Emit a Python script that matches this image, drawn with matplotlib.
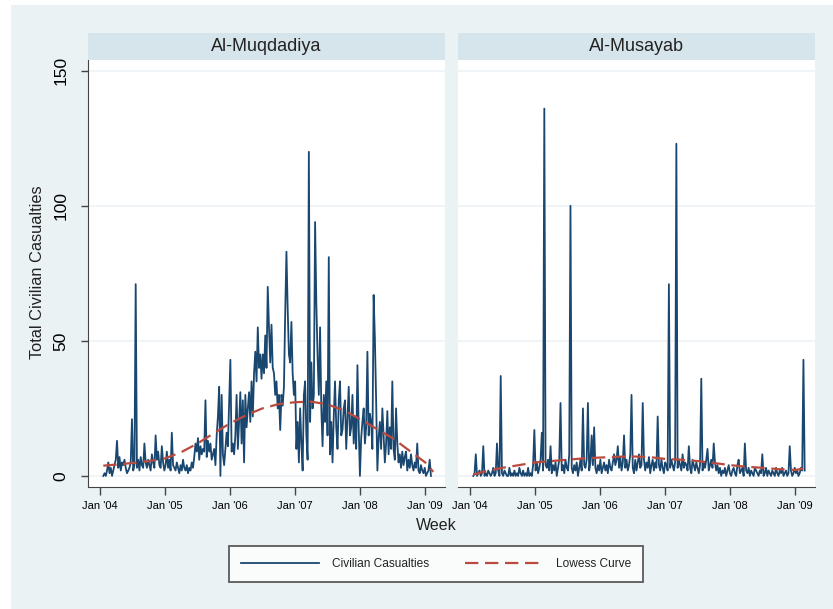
import numpy as np
import pandas as pd
import matplotlib
matplotlib.use('Agg')
import matplotlib.pyplot as plt
from matplotlib.patches import Rectangle

plt.rcParams['font.family'] = ['Liberation Sans', 'DejaVu Sans']

# weekly civilian casualties, starting week of 19 Jan 2004
muqdadiya = [
    0, 1, 0, 2, 5, 1, 3, 0, 2, 4,
    6, 13, 3, 7, 2, 5, 4, 6, 3, 1,
    2, 3, 5, 21, 2, 4, 71, 3, 6, 2,
    7, 4, 3, 12, 5, 3, 6, 4, 2, 8,
    5, 3, 15, 6, 9, 4, 3, 11, 5, 2,
    4, 9, 3, 6, 2, 16, 4, 3, 2, 5,
    3, 1, 4, 2, 6, 3, 2, 4, 1, 3,
    2, 5, 3, 7, 12, 9, 14, 6, 11, 8,
    10, 9, 28, 7, 13, 9, 12, 6, 8, 10,
    4, 15, 22, 33, 0, 30, 8, 4, 10, 16,
    11, 27, 43, 9, 12, 8, 15, 30, 10, 20,
    31, 12, 28, 5, 30, 18, 25, 31, 20, 35,
    22, 38, 46, 35, 55, 40, 45, 36, 45, 38,
    52, 40, 70, 55, 42, 56, 40, 38, 30, 35,
    25, 30, 17, 30, 26, 33, 60, 83, 62, 45,
    42, 57, 38, 30, 35, 10, 20, 5, 25, 12,
    2, 30, 35, 15, 6, 120, 20, 42, 25, 30,
    94, 64, 44, 30, 55, 25, 11, 30, 20, 35,
    15, 81, 8, 20, 5, 22, 35, 18, 10, 28,
    35, 15, 17, 25, 28, 10, 22, 33, 15, 18,
    30, 12, 22, 10, 41, 18, 0, 14, 20, 25,
    12, 18, 46, 15, 23, 20, 10, 67, 51, 28,
    2, 14, 20, 10, 25, 15, 5, 12, 24, 8,
    18, 10, 35, 10, 6, 25, 12, 5, 8, 3,
    9, 4, 7, 9, 2, 6, 3, 8, 4, 2,
    5, 3, 12, 2, 1, 4, 2, 1, 3, 0,
    1, 2, 6, 0,
]

musayab = [
    0, 1, 8, 0, 1, 2, 0, 1, 11, 0,
    1, 0, 2, 1, 0, 1, 3, 0, 1, 12,
    2, 0, 37, 1, 0, 2, 1, 0, 0, 3,
    0, 1, 0, 2, 0, 1, 0, 3, 1, 0,
    2, 0, 1, 0, 3, 0, 1, 0, 4, 17,
    2, 5, 1, 3, 6, 16, 2, 136, 4, 3,
    6, 2, 11, 1, 4, 2, 5, 0, 3, 6,
    27, 2, 4, 1, 6, 3, 2, 8, 100, 3,
    1, 4, 2, 5, 0, 3, 6, 2, 25, 4,
    3, 6, 27, 2, 5, 15, 4, 18, 3, 1,
    4, 2, 6, 1, 3, 5, 2, 4, 1, 6,
    3, 2, 5, 8, 4, 6, 11, 3, 7, 2,
    5, 15, 3, 6, 2, 4, 8, 30, 3, 1,
    6, 2, 5, 8, 3, 4, 27, 6, 2, 5,
    3, 7, 1, 4, 6, 2, 5, 3, 22, 4,
    2, 6, 3, 1, 5, 4, 2, 71, 3, 6,
    4, 2, 5, 123, 3, 6, 4, 2, 8, 3,
    5, 4, 2, 11, 3, 1, 6, 4, 2, 5,
    3, 1, 4, 36, 2, 5, 3, 6, 10, 2,
    4, 6, 3, 12, 5, 2, 4, 1, 3, 0,
    2, 1, 3, 0, 2, 4, 1, 0, 2, 3,
    1, 0, 4, 6, 1, 2, 3, 0, 12, 2,
    1, 3, 0, 2, 1, 0, 3, 2, 1, 0,
    2, 1, 8, 0, 1, 3, 0, 2, 1, 0,
    2, 1, 0, 3, 1, 0, 2, 1, 3, 0,
    1, 2, 0, 1, 11, 2, 0, 1, 3, 1,
    2, 0, 1, 3, 2, 43, 2,
]

# lowess fit
lowess_dates = ['2004-01-19', '2004-04-01', '2004-07-01', '2004-10-01',
                '2005-01-01', '2005-04-01', '2005-07-01', '2005-10-01',
                '2006-01-01', '2006-04-01', '2006-07-01', '2006-10-01',
                '2007-01-01', '2007-04-01', '2007-07-01', '2007-10-01',
                '2008-01-01', '2008-04-01', '2008-07-01', '2008-10-01',
                '2009-01-01', '2009-02-15']
lowess_muqdadiya = [3.8, 4.2, 4.8, 5.5, 6.5, 8.8, 12.0, 15.8, 19.5, 22.5, 25.0,
                    26.6, 27.3, 27.5, 26.5, 24.3, 21.0, 17.5, 14.0, 9.5, 5.0, 1.5]
lowess_musayab = [0.5, 1.8, 3.0, 4.0, 5.0, 5.5, 6.0, 6.5, 6.8, 7.1, 7.2,
                  7.0, 6.3, 6.0, 5.5, 4.8, 4.0, 3.4, 3.0, 2.5, 2.2, 2.7]

panel_names = ['Al-Muqdadiya', 'Al-Musayab']
years = [2004, 2005, 2006, 2007, 2008, 2009]
year_labels = ["Jan '04", "Jan '05", "Jan '06", "Jan '07", "Jan '08", "Jan '09"]
yticks = [0, 50, 100, 150]

W, H = 833, 609
fig = plt.figure(figsize=(W / 100, H / 100), dpi=100)
fig.patch.set_facecolor('white')
fig.patches.append(Rectangle((11 / W, 0), 1 - 11 / W, 1 - 5 / H, transform=fig.transFigure,
                             facecolor='#eaf2f4', edgecolor='none', zorder=-10))


def box(x0, y0, x1, y1):
    return [x0 / W, 1 - y1 / H, (x1 - x0) / W, (y1 - y0) / H]


blue = '#1a476f'
red = '#bb4a3e'
axis_col = '#444444'

series = [muqdadiya, musayab]
lowess = [lowess_muqdadiya, lowess_musayab]
lefts = [88, 458]
handles = None
for k in range(2):
    x0 = lefts[k]
    ax = fig.add_axes(box(x0, 60, x0 + 357, 487))
    ax.set_facecolor('white')
    weeks = pd.date_range('2004-01-19', periods=len(series[k]), freq='7D')
    l1, = ax.plot(weeks, series[k], color=blue, lw=1.3, label='Civilian Casualties', zorder=3)
    l2, = ax.plot(pd.to_datetime(lowess_dates), lowess[k], color=red, lw=1.6,
                  ls=(0, (6, 3)), label='Lowess Curve', zorder=4)
    handles = [l1, l2]
    ax.set_ylim(-4.1, 154)
    ax.set_xlim(pd.Timestamp('2003-10-25'), pd.Timestamp('2009-04-22'))
    ax.set_xticks([pd.Timestamp(f'{y}-01-01') for y in years])
    ax.set_xticklabels(year_labels, fontsize=8)
    ax.set_yticks(yticks)
    ax.grid(axis='y', color='#edf2f5', lw=1.2)
    ax.set_axisbelow(True)
    for s in ['top', 'right']:
        ax.spines[s].set_visible(False)
    ax.spines['bottom'].set_color(axis_col)
    ax.spines['left'].set_color(axis_col)
    ax.tick_params(axis='x', direction='out', length=6, width=1, color=axis_col, pad=4)
    if k == 0:
        ax.set_yticklabels([str(v) for v in yticks], rotation=90, va='center', fontsize=12.5)
        ax.tick_params(axis='y', direction='out', length=5, width=1, color=axis_col, pad=9)
    else:
        ax.spines['left'].set_visible(False)
        ax.tick_params(axis='y', left=False, labelleft=False)

    strip = fig.add_axes(box(x0, 33, x0 + 357, 60))
    strip.set_facecolor('#d6e4eb')
    strip.set_xticks([])
    strip.set_yticks([])
    for s in strip.spines.values():
        s.set_visible(False)
    strip.text(0.5, 0.5, panel_names[k], ha='center', va='center', fontsize=13, color='#222222',
               transform=strip.transAxes)

fig.text(38 / W, 1 - 272 / H, 'Total Civilian Casualties', rotation=90, ha='center', va='center',
         fontsize=11.8, color='#222222')
fig.text(436 / W, 1 - 526 / H, 'Week', ha='center', va='center', fontsize=11.5, color='#222222')

leg = fig.legend(handles=handles, loc='center', bbox_to_anchor=(436 / W, 1 - 564 / H), ncol=2,
                 fontsize=8.6, frameon=True, fancybox=False, handlelength=6.5, handletextpad=1.1,
                 columnspacing=3.0, borderpad=1.0, borderaxespad=0)
leg.get_frame().set_edgecolor('#333333')
leg.get_frame().set_linewidth(1.3)
leg.get_frame().set_facecolor('white')
for t in leg.get_texts():
    t.set_color('#222222')

fig.savefig('out.png', dpi=100, facecolor=fig.get_facecolor())
